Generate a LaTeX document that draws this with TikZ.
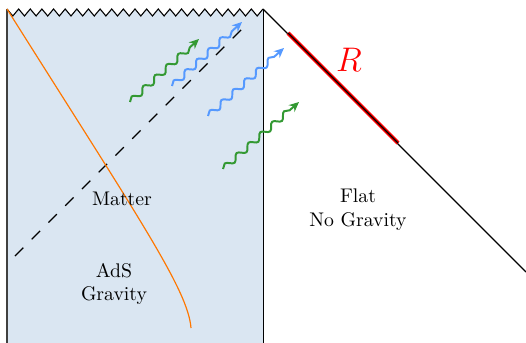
\documentclass[tikz,border=0pt]{standalone}
\usepackage{tikz}
\usetikzlibrary{arrows.meta,decorations.pathmorphing}
\definecolor{adsfill}{HTML}{DAE6F2}
\definecolor{wavegreen}{HTML}{339933}
\definecolor{waveblue}{HTML}{5599FF}
\definecolor{bulkorange}{HTML}{FF7700}
\definecolor{edgegray}{HTML}{404040}

\begin{document}
\begin{tikzpicture}[x=0.0178cm, y=-0.0178cm,
    wavearrow/.style={line width=1pt, -{Stealth[length=5pt,width=4.5pt]}, decorate,
      decoration={snake, amplitude=1.5pt, segment length=8pt, post length=5pt}}]
    \useasboundingbox (0,0) rectangle (526,343);
    \coordinate (tl) at (7,9);
    \coordinate (tr) at (263,9);
    \coordinate (bl) at (7,343);
    \coordinate (br) at (263,343);
    % AdS region with singular top edge
    \fill[adsfill] (bl) -- (tl) \foreach \i in {1,...,22} { -- ({7+(\i-0.5)*11.636},16) -- ({7+\i*11.636},9) } -- (br) -- cycle;
    \draw[line width=0.55pt] (tl) \foreach \i in {1,...,22} { -- ({7+(\i-0.5)*11.636},16) -- ({7+\i*11.636},9) };
    \draw[edgegray, line width=1.4pt] (tl) -- (bl);
    \draw[line width=0.5pt] (tr) -- (br);
    % flat region boundary and R
    \draw[line width=0.55pt] (tr) -- (526,272);
    \coordinate (ra) at (288,33);
    \coordinate (rb) at (398,143);
    \draw[red, line width=2pt] (ra) -- (rb);
    \draw[line width=0.6pt] (ra) -- (rb);
    \node[red, font=\LARGE] (R) at (349,60) {$R$};
    % horizon and brane trajectory
    \draw[semithick, dash pattern=on 6pt off 6pt] (15,256) -- (247,24);
    \draw[bulkorange, line width=0.6pt] (tl) .. controls (140,220) and (188,290) .. (191,328);
    % radiation
    \draw[wavearrow, wavegreen] (130,102) -- (199,39);
    \draw[wavearrow, waveblue] (172,86) -- (242,22);
    \draw[wavearrow, waveblue] (208,116) -- (284,48);
    \draw[wavearrow, wavegreen] (223,169) -- (299,102);
    % labels
    \node (matter) at (122,199) {Matter};
    \node[align=center] (ads) at (114,284) {AdS\\Gravity};
    \node[align=center] (flat) at (358,210) {Flat\\No Gravity};
\end{tikzpicture}
\end{document}
